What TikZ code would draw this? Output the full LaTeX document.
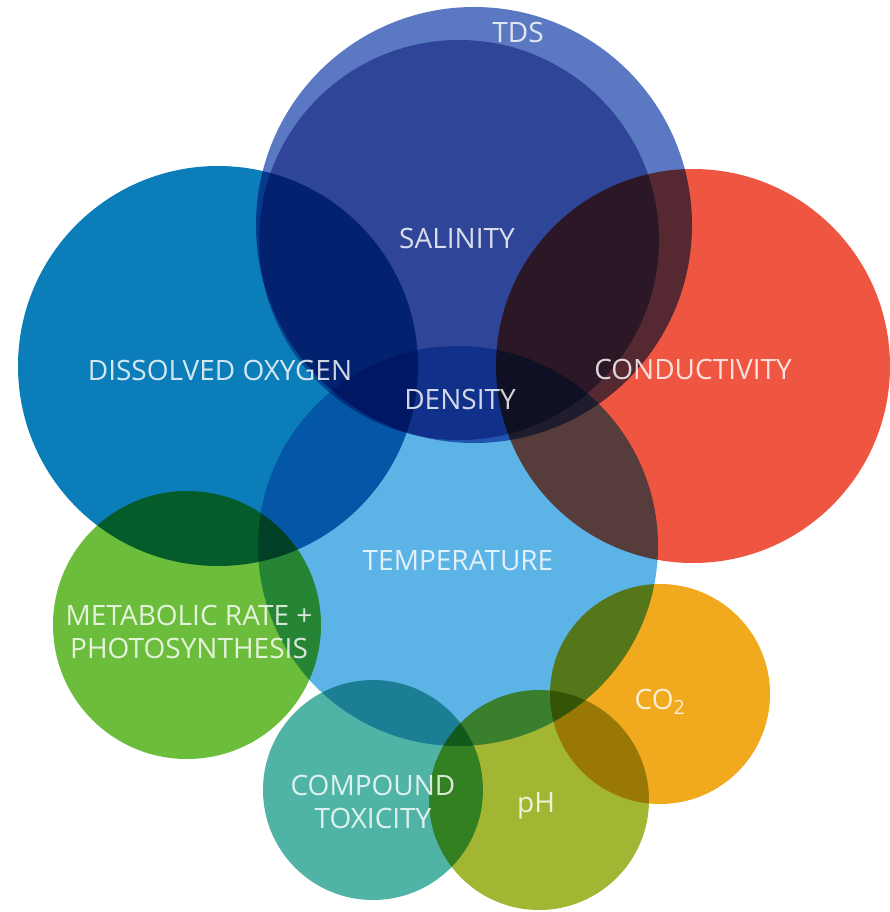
\documentclass[tikz,border=0pt]{standalone}
\usepackage{fontspec}
\setmainfont{Open Sans}
\definecolor{tdsblue}{HTML}{5B78C2}
\definecolor{salblue}{RGB}{132,148,200}
\definecolor{oxyblue}{HTML}{0B7DB9}
\definecolor{condred}{HTML}{EF5642}
\definecolor{tempblue}{HTML}{5CB3E6}
\definecolor{metagreen}{HTML}{6CBD3B}
\definecolor{cotwo}{HTML}{F1A91D}
\definecolor{phgreen}{HTML}{A2B633}
\definecolor{toxteal}{HTML}{4FB4A6}
\tikzset{
  lbl/.style={text=white, text opacity=0.82, font=\fontsize{28}{33}\selectfont, align=center, inner sep=0pt},
}

\begin{document}
\begin{tikzpicture}[x=1pt, y=-1pt]
			%%%%% START %%%%%
			\useasboundingbox (0, 0) rectangle (889, 912);
			\fill[white] (0, 0) rectangle (889, 912);
			
			\begin{scope}[blend group=multiply]
			\fill[tdsblue] (474, 225) circle (218);
			\fill[salblue] (459, 240) circle (200);
			
			\fill[oxyblue] (218, 366) circle (200);
			\fill[condred] (693, 366) circle (197);
			\fill[tempblue] (458, 546) circle (200);
			
			\fill[metagreen] (187, 625) circle (134);
			\fill[cotwo] (660, 694) circle (110);
			\fill[toxteal] (373, 790) circle (110);
			\fill[phgreen] (539, 800) circle (110);
			\end{scope}
			
			\node[lbl] (tds) at (518, 33) {TDS};
			\node[lbl] (sal) at (457, 238) {SALINITY};
			\node[lbl] (oxy) at (220, 370) {DISSOLVED OXYGEN};
			\node[lbl] (cond) at (693, 369) {CONDUCTIVITY};
			\node[lbl] (dens) at (460, 399) {DENSITY};
			\node[lbl] (temp) at (458, 561) {TEMPERATURE};
			\node[lbl] (meta) at (189, 632) {METABOLIC RATE +\\PHOTOSYNTHESIS};
			\node[lbl] (tox) at (373, 802) {COMPOUND\\TOXICITY};
			\node[lbl] (ph) at (536, 806) {pH};
			\node[lbl] (co) at (660, 702) {CO\textsubscript{2}};
			
			%%%%% END %%%%%
\end{tikzpicture}
\end{document}
